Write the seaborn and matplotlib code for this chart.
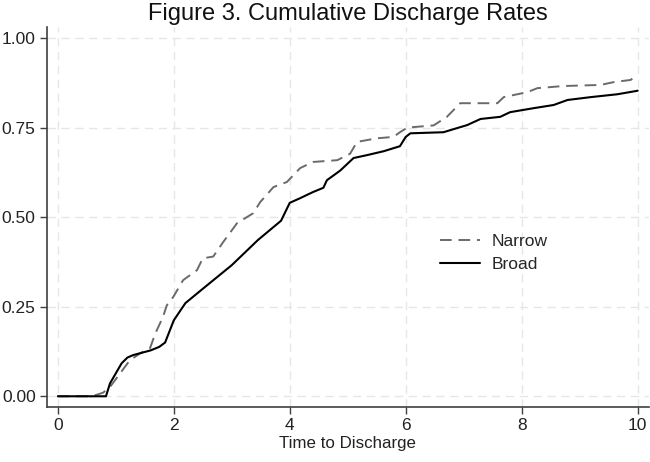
import pandas as pd
import matplotlib
matplotlib.use('Agg')
import matplotlib.pyplot as plt
import seaborn as sns

# Values
narrow_t = [0.0, 0.59, 0.78, 0.90, 1.07, 1.24, 1.42, 1.59, 1.68, 1.81, 1.88, 1.99,
            2.16, 2.40, 2.50, 2.68, 2.85, 3.09, 3.37, 3.49, 3.72, 3.95, 4.18, 4.40,
            4.82, 5.04, 5.16, 5.50, 5.79, 5.90, 6.03, 6.48, 6.71, 6.94, 7.58, 7.69,
            8.10, 8.27, 8.72, 9.36, 9.59, 9.88, 9.94, 10.0]
narrow_y = [0.0, 0.0, 0.010, 0.026, 0.063, 0.100, 0.120, 0.134, 0.175, 0.220, 0.254, 0.277,
            0.324, 0.352, 0.385, 0.390, 0.430, 0.483, 0.511, 0.542, 0.584, 0.598, 0.637, 0.654,
            0.659, 0.677, 0.710, 0.720, 0.724, 0.737, 0.750, 0.756, 0.780, 0.818, 0.818, 0.835,
            0.849, 0.860, 0.866, 0.869, 0.877, 0.883, 0.891, 0.891]

broad_t = [0.0, 0.83, 0.90, 1.10, 1.20, 1.30, 1.60, 1.75, 1.85, 2.00, 2.20, 2.50,
           3.00, 3.45, 3.85, 4.00, 4.18, 4.40, 4.58, 4.64, 4.87, 5.10, 5.33, 5.62,
           5.90, 6.00, 6.08, 6.65, 7.06, 7.29, 7.63, 7.80, 8.20, 8.55, 8.79, 9.19,
           9.65, 9.97, 10.0]
broad_y = [0.0, 0.0, 0.036, 0.092, 0.108, 0.115, 0.128, 0.138, 0.150, 0.212, 0.260, 0.300,
           0.366, 0.436, 0.490, 0.540, 0.553, 0.570, 0.582, 0.603, 0.630, 0.665, 0.673, 0.684,
           0.698, 0.724, 0.734, 0.737, 0.757, 0.774, 0.780, 0.793, 0.804, 0.813, 0.827, 0.835,
           0.843, 0.852, 0.853]

x_ticks = [0, 2, 4, 6, 8, 10]
y_ticks = [0.0, 0.25, 0.5, 0.75, 1.0]
y_tick_labels = ['0.00', '0.25', '0.50', '0.75', '1.00']

sns.set_theme(style='white')
plt.rcParams['font.family'] = ['Liberation Sans', 'DejaVu Sans']

df = pd.concat([
    pd.DataFrame({'t': narrow_t, 'rate': narrow_y, 'group': 'Narrow'}),
    pd.DataFrame({'t': broad_t, 'rate': broad_y, 'group': 'Broad'}),
])

fig = plt.figure(figsize=(6.5, 4.62), dpi=100)
ax = fig.add_axes([0.072, 0.119, 0.926, 0.822])

# light dashed grid
for x in x_ticks:
    ax.axvline(x, color='#e6e6e6', lw=1.0, ls=(0, (6, 4)), zorder=0)
for y in y_ticks:
    ax.axhline(y, color='#e6e6e6', lw=1.0, ls=(0, (6, 4)), zorder=0)

sns.lineplot(data=df[df.group == 'Narrow'], x='t', y='rate', ax=ax,
             color='#6a6a6a', lw=1.4, linestyle=(0, (6, 3.5)), label='Narrow',
             estimator=None, sort=False)
sns.lineplot(data=df[df.group == 'Broad'], x='t', y='rate', ax=ax,
             color='black', lw=1.5, label='Broad', estimator=None, sort=False)

ax.set_xlim(-0.19, 10.19)
ax.set_ylim(-0.03, 1.03)
ax.set_xticks(x_ticks)
ax.set_yticks(y_ticks)
ax.set_yticklabels(y_tick_labels)
ax.tick_params(axis='both', direction='out', length=5, width=1, color='#404040',
               labelsize=12.5, labelcolor='#222222', bottom=True, left=True, pad=3)
ax.set_xlabel('Time to Discharge', fontsize=12.2, color='#222222', labelpad=2)
ax.set_ylabel('')
ax.set_title('Figure 3. Cumulative Discharge Rates', fontsize=17, color='#111111', pad=5)

for s in ['top', 'right']:
    ax.spines[s].set_visible(False)
for s in ['left', 'bottom']:
    ax.spines[s].set_color('#404040')
    ax.spines[s].set_linewidth(1.2)

ax.legend(loc='center left', bbox_to_anchor=(0.654, 0.405), frameon=False,
          borderpad=0, borderaxespad=0, fontsize=12.5, handlelength=2.3,
          labelspacing=0.45, handletextpad=0.65)

fig.savefig('out.png', dpi=100)
